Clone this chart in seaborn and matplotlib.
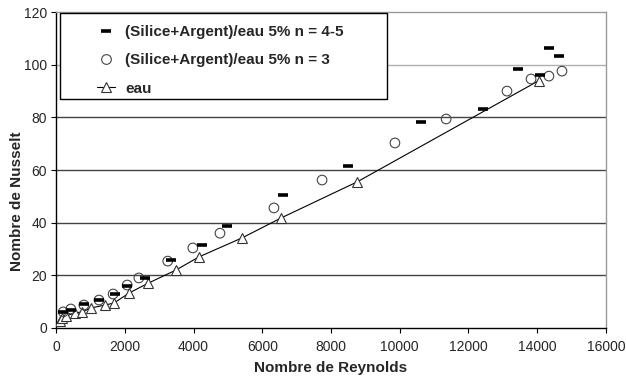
import matplotlib
matplotlib.use('Agg')
import matplotlib.pyplot as plt
import seaborn as sns
import pandas as pd
from matplotlib.lines import Line2D
from matplotlib.patches import Rectangle

# (Silice+Argent)/eau 5% n = 4-5
re_n45 = [210, 430, 820, 1250, 1720, 2070, 2590, 3350, 4240, 4970, 6600,
          8490, 10620, 12420, 13450, 14080, 14330, 14620]
nu_n45 = [6.0, 6.8, 9.1, 10.6, 12.9, 16.0, 19.0, 25.8, 31.5, 38.7, 50.5,
          61.5, 78.2, 83.2, 98.5, 96.0, 106.5, 103.5]

# (Silice+Argent)/eau 5% n = 3
re_n3 = [210, 430, 810, 1250, 1660, 2070, 2410, 3250, 3980, 4770, 6340,
         7740, 9860, 11350, 13120, 13820, 14340, 14720]
nu_n3 = [6.1, 7.2, 8.7, 10.6, 12.9, 16.3, 19.0, 25.4, 30.4, 36.0, 45.6,
         56.2, 70.3, 79.4, 90.0, 94.6, 95.7, 97.6]

# eau
re_eau = [120, 170, 290, 550, 760, 1020, 1430, 1690, 2130, 2680, 3490,
          4160, 5410, 6550, 8760, 14050]
nu_eau = [2.7, 3.8, 4.6, 5.7, 6.1, 7.6, 8.7, 9.5, 13.3, 17.0, 22.0,
          27.0, 34.2, 41.8, 55.5, 94.0]

labels = ['(Silice+Argent)/eau 5% n = 4-5', '(Silice+Argent)/eau 5% n = 3', 'eau']

sns.set_style('ticks')
plt.rcParams['font.family'] = ['Liberation Sans', 'DejaVu Sans']

fig = plt.figure(figsize=(6.26, 3.80), dpi=100)
ax = fig.add_axes([0.0895, 0.137, 0.8785, 0.831])

# lignes horizontales
for yv in [20, 40, 60, 80]:
    ax.axhline(yv, color='#444444', lw=1.0, zorder=0)
ax.axhline(100, color='#b0b0b0', lw=1.0, zorder=0)

df_eau = pd.DataFrame({'Re': re_eau, 'Nu': nu_eau})
sns.lineplot(data=df_eau, x='Re', y='Nu', ax=ax, color='black', lw=0.8,
             marker='^', markersize=7.5, markerfacecolor='white',
             markeredgecolor='#333333', markeredgewidth=0.8, sort=False, zorder=3)

df_n3 = pd.DataFrame({'Re': re_n3, 'Nu': nu_n3})
sns.scatterplot(data=df_n3, x='Re', y='Nu', ax=ax, marker='o', s=48,
                facecolor='none', edgecolor='#444444', linewidth=0.8, zorder=4)

df_n45 = pd.DataFrame({'Re': re_n45, 'Nu': nu_n45})
sns.scatterplot(data=df_n45, x='Re', y='Nu', ax=ax, marker='_', s=45,
                color='black', linewidth=2.6, zorder=5)

ax.set_xlim(0, 16000)
ax.set_ylim(0, 120)
ax.set_xticks(range(0, 16001, 2000))
ax.set_yticks(range(0, 121, 20))
ax.tick_params(labelsize=10, length=3.5, width=0.8, direction='out', color='black')
ax.tick_params(axis='x', pad=5)
ax.tick_params(axis='y', pad=3)
ax.set_xlabel('Nombre de Reynolds', fontsize=11, fontweight='bold', labelpad=5)
ax.set_ylabel('Nombre de Nusselt', fontsize=11, fontweight='bold')
ax.yaxis.set_label_coords(-0.058, 0.40)

for side in ['left', 'bottom']:
    ax.spines[side].set_color('black')
    ax.spines[side].set_linewidth(1.0)
for side in ['top', 'right']:
    ax.spines[side].set_visible(True)
    ax.spines[side].set_color('#999999')
    ax.spines[side].set_linewidth(1.0)

# cadre de la légende
ax.add_patch(Rectangle((0.0073, 0.7247), 0.5945, 0.272, transform=ax.transAxes,
                       facecolor='white', edgecolor='black', lw=1.0, zorder=6))

handles = [
    Line2D([], [], ls='none', marker='_', markersize=6.5, markeredgewidth=2.6, color='black'),
    Line2D([], [], ls='none', marker='o', markersize=7, markerfacecolor='none',
           markeredgecolor='#444444', markeredgewidth=0.8),
    Line2D([], [], color='black', lw=0.8, marker='^', markersize=7,
           markerfacecolor='white', markeredgecolor='#333333', markeredgewidth=0.8),
]
leg = ax.legend(handles, labels, loc='upper left', bbox_to_anchor=(0.0745, 0.958),
                prop={'weight': 'bold', 'size': 11}, frameon=False,
                handlelength=1.2, handletextpad=0.65, borderpad=0,
                labelspacing=0.92, borderaxespad=0)
leg.set_zorder(7)

fig.savefig('out.png', dpi=100)
